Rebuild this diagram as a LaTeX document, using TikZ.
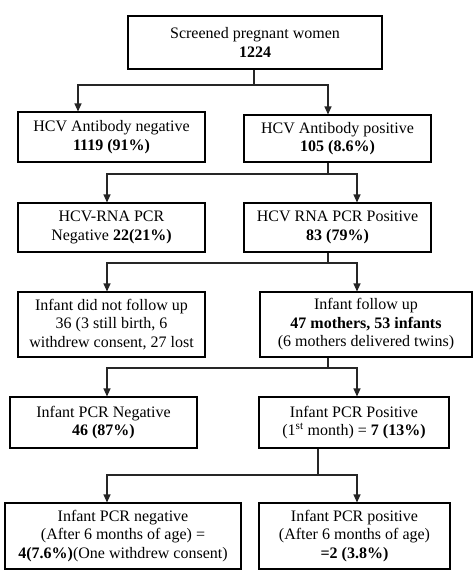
\documentclass[tikz,border=0pt]{standalone}
\usepackage{fontspec}
\setmainfont{Liberation Serif}
\usetikzlibrary{arrows.meta}
\begin{document}
\begin{tikzpicture}[x=1pt,y=-1pt,
  box/.style={draw=black,line width=1.1pt,align=center,inner sep=0pt,
    font=\fontsize{16}{18.5}\selectfont},
  link/.style={line width=1.1pt,draw=black!85},
  arr/.style={link,-{Triangle[length=8pt,width=7pt]}}]
\useasboundingbox (0,0) rectangle (473,579);
\node[box,minimum width=254pt,minimum height=53pt] (b1) at (255,42.5) {Screened pregnant women\\\textbf{1224}};
\node[box,minimum width=187pt,minimum height=50pt] (b2) at (111.5,137) {HCV Antibody negative\\\textbf{1119 (91\%)}};
\node[box,minimum width=187pt,minimum height=47pt] (b3) at (337.5,138.5) {HCV Antibody positive\\\textbf{105 (8.6\%)}};
\node[box,minimum width=187pt,minimum height=49pt] (b4) at (111.5,227.5) {HCV-RNA PCR\\Negative \textbf{22(21\%)}};
\node[box,minimum width=187pt,minimum height=49pt] (b5) at (337.5,227.5) {HCV RNA PCR Positive\\\textbf{83 (79\%)}};
\node[box,minimum width=187pt,minimum height=65pt] (b6) at (111.5,324.5) {Infant did not follow up\\36 (3 still birth, 6\\withdrew consent, 27 lost};
\node[box,minimum width=212pt,minimum height=65pt] (b7) at (366,324.5) {Infant follow up\\\textbf{47 mothers, 53 infants}\\(6 mothers delivered twins)};
\node[box,minimum width=187pt,minimum height=51pt] (b8) at (103.5,422.5) {Infant PCR Negative\\\textbf{46 (87\%)}};
\node[box,minimum width=190pt,minimum height=51pt] (b9) at (354,422.5) {Infant PCR Positive\\(1\textsuperscript{st} month) = \textbf{7 (13\%)}};
\node[box,minimum width=236pt,minimum height=66pt] (b10) at (123,536) {Infant PCR negative\\(After 6 months of age) =\\\textbf{4(7.6\%)}(One withdrew consent)};
\node[box,minimum width=191pt,minimum height=66pt] (b11) at (354.5,536) {Infant PCR positive\\(After 6 months of age)\\\textbf{=2 (3.8\%)}};
% x positions
\coordinate (x78) at (78,0);
\coordinate (x107) at (107,0);
\coordinate (x254) at (254,0);
\coordinate (x318) at (318,0);
\coordinate (x328) at (328,0);
\coordinate (x357) at (357,0);
% level 1
\coordinate (j1) at (254,85);
\draw[link] (b1.south -| x254) -- (j1);
\draw[arr] (j1) -| (b2.north -| x78);
\draw[arr] (j1) -| (b3.north -| x328);
% level 2
\coordinate (j2) at (328,174);
\draw[link] (b3.south -| x328) -- (j2);
\draw[arr] (j2) -| (b4.north -| x107);
\draw[arr] (j2) -| (b5.north -| x357);
% level 3
\coordinate (j3) at (328,263);
\draw[link] (b5.south -| x328) -- (j3);
\draw[arr] (j3) -| (b6.north -| x107);
\draw[arr] (j3) -| (b7.north -| x357);
% level 4
\coordinate (j4) at (328,368);
\draw[link] (b7.south -| x328) -- (j4);
\draw[arr] (j4) -| (b8.north -| x107);
\draw[arr] (j4) -| (b9.north -| x357);
% level 5
\coordinate (j5) at (318,475);
\draw[link] (b9.south -| x318) -- (j5);
\draw[arr] (j5) -| (b10.north -| x107);
\draw[arr] (j5) -| (b11.north -| x357);
\end{tikzpicture}
\end{document}
